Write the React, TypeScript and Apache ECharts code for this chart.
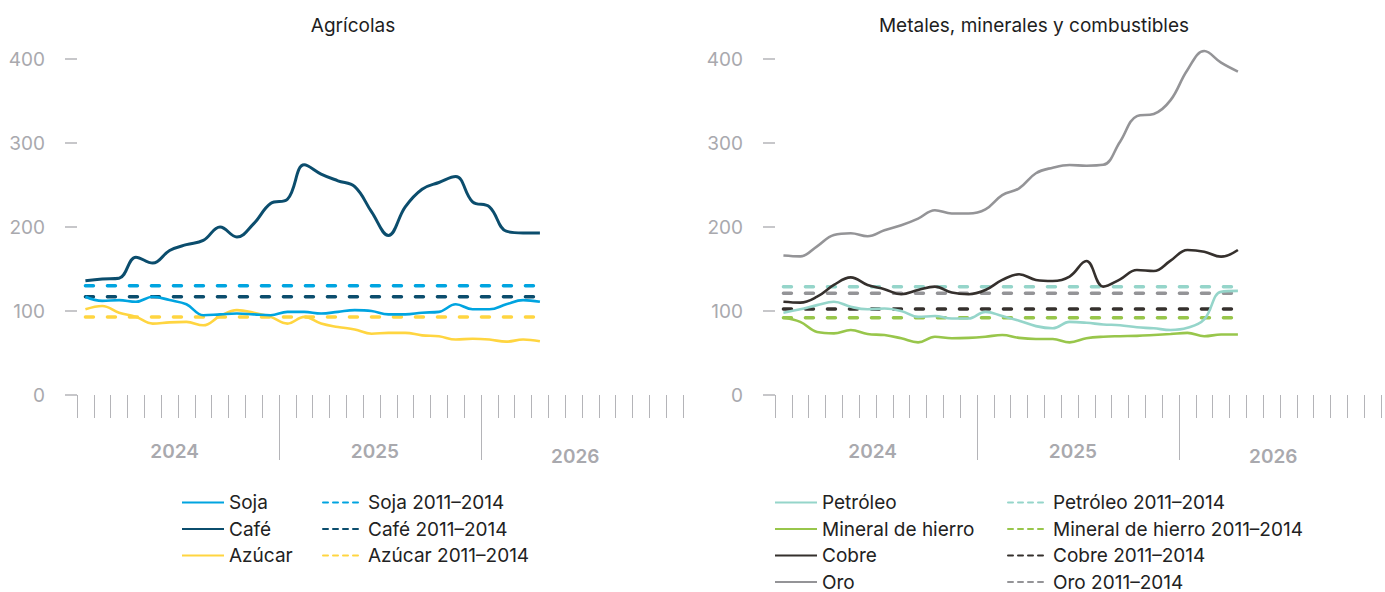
import React, { useEffect, useRef } from "react";
import * as echarts from "echarts";

const months = [
  "2024-01","2024-02","2024-03","2024-04","2024-05","2024-06","2024-07","2024-08","2024-09","2024-10","2024-11","2024-12",
  "2025-01","2025-02","2025-03","2025-04","2025-05","2025-06","2025-07","2025-08","2025-09","2025-10","2025-11","2025-12",
  "2026-01","2026-02","2026-03","2026-04","2026-05","2026-06","2026-07","2026-08","2026-09","2026-10","2026-11","2026-12",
];
const years = ["2024", "2025", "2026"];
const yTicks = [0, 100, 200, 300, 400];

// Agrícolas
const soja = [117,112,113,111,117,113,108,95,96,97,96,95,99,99,97,99,101,100,96,96,98,99,108,102,102,108,113,111];
const cafe = [136,138,139,164,157,172,179,184,200,188,204,228,233,274,263,255,248,218,190,224,245,253,260,230,224,195,193,193];
const azucar = [102,106,98,93,85,86.5,87,83,94,101,98,93,85,93,85,81,78,73,74,74,71,70,66,67,66,63.5,66,64];
const sojaRef = 130;
const cafeRef = 117;
const azucarRef = 93;

// Metales, minerales y combustibles
const petroleo = [98,102,107,111,105,102,103,100,93,94,91,91,99,94,88.5,82,79.4,87,86,84,83,80.6,79.4,77.4,80,90,123,124];
const mineral = [92,87,75,73.4,77.4,72.6,71.4,67.5,62.7,69.4,67.5,68,69.4,71.4,68,66.7,66.7,62.7,67.5,69.4,70,70.4,71.4,72.6,74,70,72,72];
const cobre = [111,110,117,131,140,131,126,120,125,129,122,120,125,137,143.7,137,135.7,141,159.5,129,137.7,148.8,147.6,160,172.6,170.6,164.7,172.6];
const oro = [166,165,177,190.5,192.5,189,196,202,210,220,216,216,221,238,246,264,270.6,273.8,273,274,301.6,332,334.5,351,387,409.5,395.6,385];
const petroleoRef = 129;
const mineralRef = 92;
const cobreRef = 102.5;
const oroRef = 121;

const FONT = "Inter, 'Noto Sans', sans-serif";
const AXIS_GRAY = "#a9a9ae";
const TICK_GRAY = "#b4b4b8";

const C = {
  soja: "#00a4e0",
  cafe: "#0b4d6d",
  azucar: "#ffd540",
  petroleo: "#95d5ca",
  mineral: "#98c64b",
  cobre: "#35302d",
  oro: "#949497",
};

function solid(name: string, data: number[], color: string, axis: number, width = 2.6) {
  return {
    type: "line", name, data, xAxisIndex: axis * 2, yAxisIndex: axis,
    symbol: "none", showSymbol: false, smooth: 0.4, color, clip: false,
    lineStyle: { color, width },
    z: 3,
  };
}
function dashed(name: string, value: number, len: number, color: string, axis: number) {
  return {
    type: "line", name, data: new Array(len).fill(value), xAxisIndex: axis * 2, yAxisIndex: axis,
    symbol: "none", showSymbol: false, color, clip: false,
    lineStyle: { color, width: 3.5, type: [8, 14], cap: "round" },
    z: 2,
  };
}

function monthAxis(grid: number) {
  return {
    type: "category", gridIndex: grid, data: months, position: "bottom", offset: 12,
    boundaryGap: true,
    axisLine: { show: false },
    axisTick: { show: true, length: 23, interval: 0, lineStyle: { color: TICK_GRAY, width: 1 } },
    axisLabel: { show: false },
    splitLine: { show: false },
  };
}
function yearAxis(grid: number) {
  return {
    type: "value", gridIndex: grid, min: 0, max: 36, position: "bottom", offset: 12,
    axisLine: { show: false },
    axisTick: { show: true, length: 53, customValues: [12, 24], lineStyle: { color: TICK_GRAY, width: 1 } },
    axisLabel: {
      show: true, customValues: [5.8, 17.7, 29.6], margin: 35,
      formatter: (v: number) => {
        const i = Math.round((v - 6) / 12);
        return i === 2 ? `{b|${years[i]}}` : `{a|${years[i]}}`;
      },
      rich: {
        a: { fontSize: 19, fontWeight: 600, color: AXIS_GRAY, fontFamily: FONT },
        b: { fontSize: 19, fontWeight: 600, color: AXIS_GRAY, fontFamily: FONT, padding: [5, 0, 0, 0] },
      },
    },
    splitLine: { show: false },
  };
}
function valueAxis(grid: number) {
  return {
    type: "value", gridIndex: grid, min: yTicks[0], max: yTicks[yTicks.length - 1], interval: 100,
    offset: 10,
    axisLine: { show: false },
    axisTick: { show: true, length: 12, lineStyle: { color: TICK_GRAY, width: 1.5 } },
    axisLabel: { margin: 22, fontSize: 19, color: AXIS_GRAY, fontFamily: FONT },
    splitLine: { show: false },
  };
}

const dashLegend = { type: [5, 5], width: 2 };

function legend(left: number, names: string[], itemWidth: number, isDashed: boolean) {
  return {
    orient: "vertical", left, top: 493, itemWidth, itemHeight: 14, itemGap: 7.5,
    padding: 0, height: 99,
    selectedMode: false,
    itemStyle: { opacity: 0, borderWidth: 0 },
    textStyle: { fontSize: 19, lineHeight: 19, color: "#222222", fontFamily: FONT },
    data: names.map((n) => (isDashed ? { name: n, lineStyle: dashLegend } : { name: n })),
  };
}

export default function App() {
  const ref = useRef<HTMLDivElement>(null);
  useEffect(() => {
    if (!ref.current) return;
    const chart = echarts.init(ref.current, null, { renderer: "svg" });
    const n = soja.length;
    const m = oro.length;
    chart.setOption({
      animation: false,
      backgroundColor: "#ffffff",
      textStyle: { fontFamily: FONT },
      graphic: [
        { type: "text", x: 353, y: 25, style: { text: "Agrícolas", fontSize: 19, fill: "#1e1e1e", fontFamily: FONT, textAlign: "center", textVerticalAlign: "middle" } },
        { type: "text", x: 1034, y: 25, style: { text: "Metales, minerales y combustibles", fontSize: 19, fill: "#1e1e1e", fontFamily: FONT, textAlign: "center", textVerticalAlign: "middle" } },
      ],
      grid: [
        { left: 77, width: 606, top: 59, height: 336 },
        { left: 775, width: 606, top: 59, height: 336 },
      ],
      xAxis: [monthAxis(0), yearAxis(0), monthAxis(1), yearAxis(1)],
      yAxis: [valueAxis(0), valueAxis(1)],
      legend: [
        legend(181, ["Soja", "Café", "Azúcar"], 42, false),
        legend(322, ["Soja 2011–2014", "Café 2011–2014", "Azúcar 2011–2014"], 40, true),
        legend(774, ["Petróleo", "Mineral de hierro", "Cobre", "Oro"], 42, false),
        legend(1007, ["Petróleo 2011–2014", "Mineral de hierro 2011–2014", "Cobre 2011–2014", "Oro 2011–2014"], 40, true),
      ],
      series: [
        dashed("Soja 2011–2014", sojaRef, n, C.soja, 0),
        dashed("Café 2011–2014", cafeRef, n, C.cafe, 0),
        dashed("Azúcar 2011–2014", azucarRef, n, C.azucar, 0),
        solid("Azúcar", azucar, C.azucar, 0),
        solid("Soja", soja, C.soja, 0),
        solid("Café", cafe, C.cafe, 0, 3),
        dashed("Petróleo 2011–2014", petroleoRef, m, C.petroleo, 1),
        dashed("Mineral de hierro 2011–2014", mineralRef, m, C.mineral, 1),
        dashed("Cobre 2011–2014", cobreRef, m, C.cobre, 1),
        dashed("Oro 2011–2014", oroRef, m, C.oro, 1),
        solid("Petróleo", petroleo, C.petroleo, 1),
        solid("Mineral de hierro", mineral, C.mineral, 1),
        solid("Cobre", cobre, C.cobre, 1),
        solid("Oro", oro, C.oro, 1),
      ],
    });
    return () => chart.dispose();
  }, []);
  return (
    <div
      ref={ref}
      style={{ position: "fixed", left: 0, top: 0, width: 1385, height: 592, background: "#fff" }}
    />
  );
}
